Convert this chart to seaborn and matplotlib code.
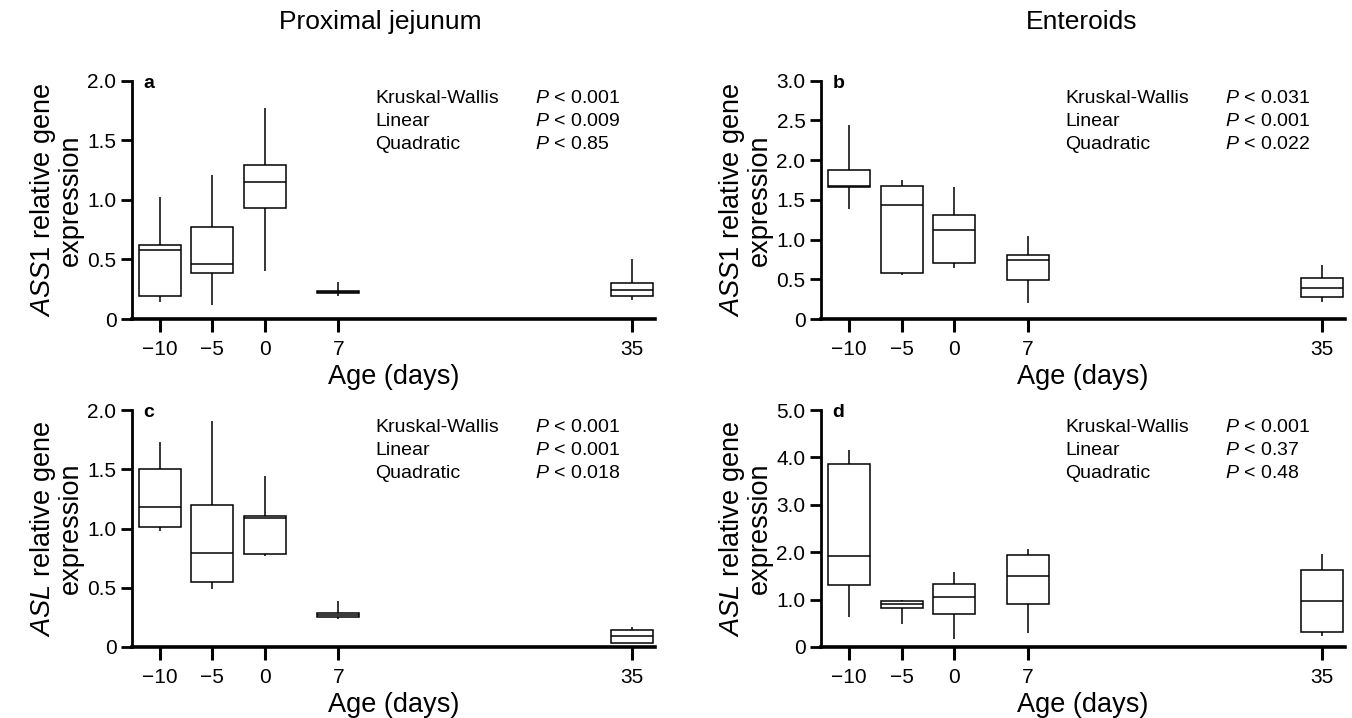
import numpy as np
import pandas as pd
import seaborn as sns
import matplotlib.pyplot as plt

# Age groups (days)
ages = [-10, -5, 0, 7, 35]

# Five-number summaries per age: [whisker low, Q1, median, Q3, whisker high]
ass1_jejunum = [
    [0.14, 0.19, 0.58, 0.62, 1.02],
    [0.12, 0.39, 0.465, 0.77, 1.21],
    [0.40, 0.93, 1.15, 1.29, 1.77],
    [0.19, 0.215, 0.225, 0.235, 0.31],
    [0.16, 0.19, 0.24, 0.30, 0.50],
]
ass1_enteroids = [
    [1.39, 1.66, 1.67, 1.88, 2.44],
    [0.55, 0.58, 1.43, 1.67, 1.75],
    [0.64, 0.70, 1.12, 1.31, 1.66],
    [0.20, 0.485, 0.74, 0.80, 1.04],
    [0.22, 0.28, 0.385, 0.52, 0.68],
]
asl_jejunum = [
    [0.975, 1.01, 1.18, 1.50, 1.73],
    [0.49, 0.55, 0.79, 1.20, 1.91],
    [0.77, 0.785, 1.09, 1.105, 1.44],
    [0.235, 0.25, 0.27, 0.29, 0.39],
    [0.03, 0.035, 0.09, 0.145, 0.17],
]
asl_enteroids = [
    [0.64, 1.31, 1.92, 3.86, 4.15],
    [0.49, 0.82, 0.91, 0.97, 0.99],
    [0.16, 0.69, 1.05, 1.32, 1.58],
    [0.30, 0.91, 1.49, 1.95, 2.06],
    [0.24, 0.31, 0.98, 1.62, 1.97],
]

panel_letters = ["a", "b", "c", "d"]
gene_names = ["ASS1", "ASS1", "ASL", "ASL"]
y_maxes = [2.0, 3.0, 2.0, 5.0]
y_steps = [0.5, 0.5, 0.5, 1.0]
stat_names = ["Kruskal-Wallis", "Linear", "Quadratic"]
stat_values = [
    ["0.001", "0.009", "0.85"],
    ["0.031", "0.001", "0.022"],
    ["0.001", "0.001", "0.018"],
    ["0.001", "0.37", "0.48"],
]
column_titles = ["Proximal jejunum", "Enteroids"]

sns.set_theme(style="ticks")
plt.rcParams["font.family"] = ["Liberation Sans", "DejaVu Sans"]
plt.rcParams["mathtext.fontset"] = "custom"
plt.rcParams["mathtext.rm"] = "Liberation Sans"
plt.rcParams["mathtext.it"] = "Liberation Sans:italic"
plt.rcParams["text.color"] = "black"
plt.rcParams["axes.labelcolor"] = "black"
plt.rcParams["xtick.color"] = "black"
plt.rcParams["ytick.color"] = "black"

fig = plt.figure(figsize=(13.52, 7.18), dpi=100)
positions = [
    [0.0974, 0.5557, 0.387, 0.332],
    [0.607, 0.5557, 0.388, 0.332],
    [0.0974, 0.0989, 0.387, 0.330],
    [0.607, 0.0989, 0.388, 0.330],
]
summaries = [ass1_jejunum, ass1_enteroids, asl_jejunum, asl_enteroids]

for i, summary in enumerate(summaries):
    ax = fig.add_axes(positions[i])
    # build a small long table: 5 values per age give exactly the quartiles above
    df = pd.DataFrame({
        "Age": np.repeat(ages, 5),
        "Expression": np.concatenate(summary),
    })
    sns.boxplot(data=df, x="Age", y="Expression", native_scale=True,
                whis=np.inf, showcaps=False, color="white", linecolor="black",
                linewidth=1.1, width=0.8, ax=ax)

    ax.set_xlim(-12.7, 37.2)
    ax.set_ylim(0, y_maxes[i])
    ax.set_xticks(ages)
    ax.set_xticklabels([str(a).replace("-", "\u2212") for a in ages])
    yt = np.arange(0, y_maxes[i] + 1e-9, y_steps[i])
    ax.set_yticks(yt)
    ax.set_yticklabels(["0"] + [f"{v:.1f}" for v in yt[1:]])
    ax.tick_params(axis="x", length=9, width=2.2, labelsize=15, pad=6)
    ax.tick_params(axis="y", length=8, width=2.0, labelsize=15, pad=3)

    sns.despine(ax=ax)
    ax.spines["left"].set_linewidth(2.0)
    ax.spines["bottom"].set_linewidth(2.6)
    ax.spines["left"].set_color("black")
    ax.spines["bottom"].set_color("black")

    ax.set_xlabel("Age (days)", fontsize=19.5)
    ax.set_ylabel(rf"$\mathit{{{gene_names[i]}}}$ relative gene" + "\nexpression",
                  fontsize=19.5, linespacing=1.0, va="center")
    ax.yaxis.set_label_coords(-0.145, 0.5)

    ax.text(0.022, 0.99, panel_letters[i], transform=ax.transAxes,
            fontsize=14, fontweight="bold", ha="left", va="center")
    for k, name in enumerate(stat_names):
        yy = 0.925 - k * 0.097
        ax.text(0.466, yy, name, transform=ax.transAxes, fontsize=14,
                ha="left", va="center")
        ax.text(0.77, yy, rf"$\mathit{{P}}$ < {stat_values[i][k]}",
                transform=ax.transAxes, fontsize=14, ha="left", va="center")

fig.text(0.281, 0.969, column_titles[0], fontsize=19, ha="center", va="center")
fig.text(0.8, 0.969, column_titles[1], fontsize=19, ha="center", va="center")

fig.savefig("out.png", dpi=100)
